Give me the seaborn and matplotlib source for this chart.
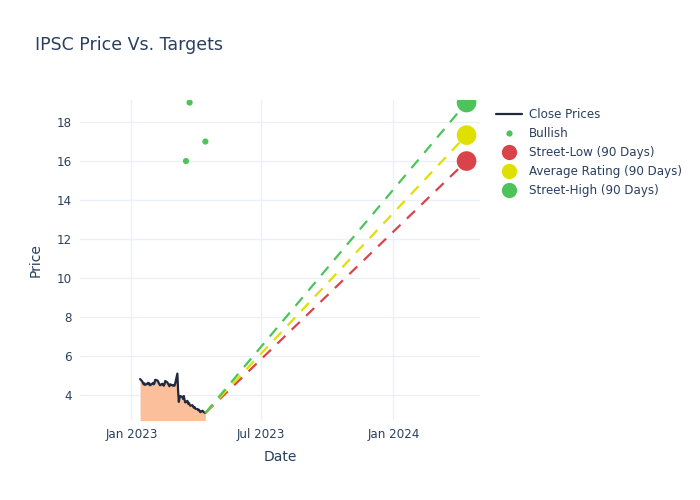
import pandas as pd
import numpy as np
import seaborn as sns
import matplotlib.pyplot as plt
import matplotlib.dates as mdates
from matplotlib.lines import Line2D

# Close prices, business days 2023-01-13 .. 2023-04-14
close_dates = pd.bdate_range("2023-01-13", "2023-04-14")
close_prices = [
    # Jan
    4.82, 4.70, 4.62, 4.55, 4.60, 4.52, 4.58, 4.63, 4.55, 4.60, 4.50, 4.58, 4.62,
    # Feb
    4.55, 4.60, 4.78, 4.75, 4.70, 4.62, 4.55, 4.50, 4.58, 4.52,
    4.48, 4.55, 4.72, 4.65, 4.58, 4.52, 4.45, 4.55, 4.50, 4.48,
    # Mar
    4.52, 4.48, 4.60, 5.10, 4.20, 3.65, 3.85, 3.95, 3.90, 3.80, 3.95, 3.75,
    3.62, 3.70, 3.55, 3.60, 3.52, 3.45, 3.48, 3.40, 3.35, 3.38, 3.30,
    # Apr
    3.28, 3.22, 3.25, 3.18, 3.12, 3.20, 3.15, 3.12, 3.10, 3.08,
]

# Analyst ratings
bullish_dates = pd.to_datetime(["2023-03-18", "2023-03-23", "2023-04-14"])
bullish_targets = [16, 19, 17]

# 90 day targets, one year after last close
target_date = pd.Timestamp("2024-04-12")
target_names = ["Street-Low (90 Days)", "Average Rating (90 Days)", "Street-High (90 Days)"]
target_values = [16.0, 17.33, 19.0]
target_colors = ["#d9444b", "#e0e000", "#4cc45a"]

df = pd.DataFrame({"Date": close_dates, "Close": close_prices})
df_bull = pd.DataFrame({"Date": bullish_dates, "Target": bullish_targets})

sns.set_theme(style="whitegrid")
plt.rcParams['font.family'] = ['DejaVu Sans']
text_col = "#2a3f5f"
grid_col = "#ebf0f8"

fig = plt.figure(figsize=(7, 5), dpi=100)
ax = fig.add_axes([0.114, 0.16, 0.572, 0.64])

# area under the close price
ax.fill_between(df["Date"], df["Close"], 0, color="#fcbf9c", linewidth=0)
sns.lineplot(data=df, x="Date", y="Close", color="#1f2940", linewidth=1.6, ax=ax)

# dashed projections from last close to each target
last_date = df["Date"].iloc[-1]
last_price = df["Close"].iloc[-1]
for val, col in zip(target_values, target_colors):
    proj = pd.DataFrame({"Date": [last_date, target_date], "Price": [last_price, val]})
    sns.lineplot(data=proj, x="Date", y="Price", color=col, linestyle=(0, (5, 4)),
                 linewidth=1.6, ax=ax)

sns.scatterplot(data=df_bull, x="Date", y="Target", color="#4cc45a", s=20,
                edgecolor="none", ax=ax, zorder=5)
for val, col in zip(target_values, target_colors):
    sns.scatterplot(x=[target_date], y=[val], color=col, s=200, edgecolor="none",
                    ax=ax, zorder=6)

ax.set_xlim(pd.Timestamp("2022-10-21"), pd.Timestamp("2024-05-01"))
ax.set_ylim(2.72, 19.13)
ax.set_yticks([4, 6, 8, 10, 12, 14, 16, 18])
ax.xaxis.set_major_locator(mdates.MonthLocator(bymonth=[1, 7]))
ax.xaxis.set_major_formatter(mdates.DateFormatter("%b %Y"))

ax.grid(True, color=grid_col, linewidth=1)
for sp in ax.spines.values():
    sp.set_visible(False)
ax.tick_params(axis="both", length=0, labelsize=8.6, labelcolor=text_col, pad=6)
ax.set_xlabel("Date", fontsize=10, color=text_col, labelpad=6)
ax.set_ylabel("Price", fontsize=10, color=text_col, labelpad=10)

fig.text(0.05, 0.9, "IPSC Price Vs. Targets", fontsize=12.5, color=text_col)

handles = [
    Line2D([0], [0], color="#1f2940", linewidth=1.6, label="Close Prices"),
    Line2D([0], [0], marker="o", color="none", markerfacecolor="#4cc45a",
           markeredgecolor="none", markersize=4.5, label="Bullish"),
]
for name, col in zip(target_names, target_colors):
    handles.append(Line2D([0], [0], marker="o", color="none", markerfacecolor=col,
                          markeredgecolor="none", markersize=11, label=name))
leg = ax.legend(handles=handles, loc="upper left", bbox_to_anchor=(1.027, 0.99),
                frameon=False, fontsize=8.6, labelspacing=0.5, handlelength=2.2,
                handletextpad=0.6, borderaxespad=0)
for t in leg.get_texts():
    t.set_color(text_col)

plt.savefig("out.png", dpi=100)
